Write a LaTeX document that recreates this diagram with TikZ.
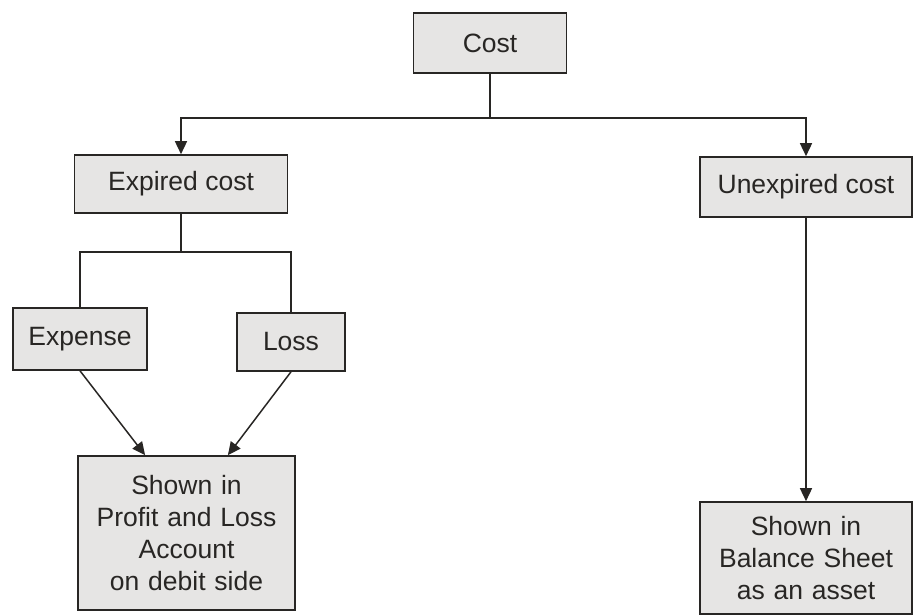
\documentclass[tikz,border=0pt]{standalone}
\usepackage{fontspec}
\setmainfont{Liberation Sans}
\usetikzlibrary{arrows.meta}
\usetikzlibrary{calc}

\definecolor{boxgray}{RGB}{230,229,228}
\definecolor{inkgray}{RGB}{40,38,36}

\begin{document}
\begin{tikzpicture}[x=1pt,y=-1pt,
		box/.style={draw=inkgray,line width=1.6pt,fill=boxgray,inner sep=0pt,align=center,font=\fontsize{26.5}{32}\selectfont,text=inkgray},
		link/.style={draw=inkgray,line width=1.5pt},
		tip/.style={link,-{Triangle[length=13pt,width=12pt]}}]
		\useasboundingbox (0,0) rectangle (913,615);
		\node[box,minimum width=153pt,minimum height=60pt] (cost) at (490,43) {Cost};
		\node[box,minimum width=213pt,minimum height=58pt] (expired) at (181,184) {Expired cost};
		\node[box,minimum width=212pt,minimum height=60pt] (unexp) at (806,187) {Unexpired cost};
		\node[box,minimum width=134pt,minimum height=62pt] (expense) at (80,339) {Expense};
		\node[box,minimum width=108pt,minimum height=58pt] (loss) at (291,342) {Loss};
		\node[box,minimum width=217pt,minimum height=154pt,text width=210pt] (pl) at (186.5,533) {Shown in\\Profit and Loss\\Account\\on debit side};
		\node[box,minimum width=212pt,minimum height=112pt,text width=205pt] (bs) at (806,558) {Shown in\\Balance Sheet\\as an asset};
		\coordinate (split) at (490,118);
		\coordinate (fork) at (181,252);
		\draw[link] (cost.south) -- (split);
		\draw[tip] (split) -| (expired.north);
		\draw[tip] (split) -| (unexp.north);
		\draw[link] (expired.south) -- (fork);
		\draw[link] (fork) -| (expense.north);
		\draw[link] (fork) -| (loss.north);
		\draw[tip] (expense.south) -- (pl.118);
		\draw[tip] (loss.south) -- (pl.62);
		\draw[tip] (unexp.south) -- (bs.north);
	\end{tikzpicture}
\end{document}
